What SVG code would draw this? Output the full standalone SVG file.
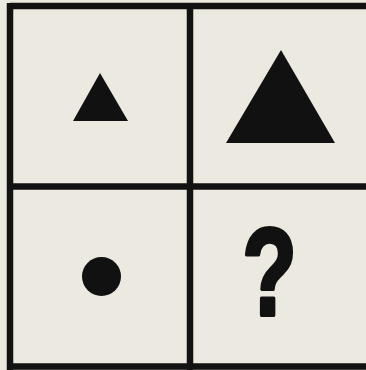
<svg xmlns="http://www.w3.org/2000/svg" width="366" height="370" viewBox="0 0 366 370">
<style>
.grid{stroke:#121212;stroke-width:6.5;fill:none}
.shape{fill:#111}
.q{font-family:"Liberation Sans",Arial,sans-serif;font-weight:bold;font-size:124px;fill:#111;stroke:#111;stroke-width:4;stroke-linejoin:round;text-anchor:middle}
</style>
<rect width="366" height="370" fill="#ece9e1"/>
<g id="connectors">
<path class="grid" d="M10 6H366M10 186.5H366M10 366.5H366M10 3V370M190 3V370"/>
</g>
<g id="small-triangle"><polygon class="shape" points="100,73 73,121 128,121"/></g>
<g id="big-triangle"><polygon class="shape" points="281,50 226,143 335,143"/></g>
<g id="circle"><circle class="shape" cx="101.5" cy="276.5" r="19.5"/></g>
<g id="question"><text class="q" transform="translate(269.5,315) scale(0.72,1)" x="0" y="0">?</text></g>
</svg>
